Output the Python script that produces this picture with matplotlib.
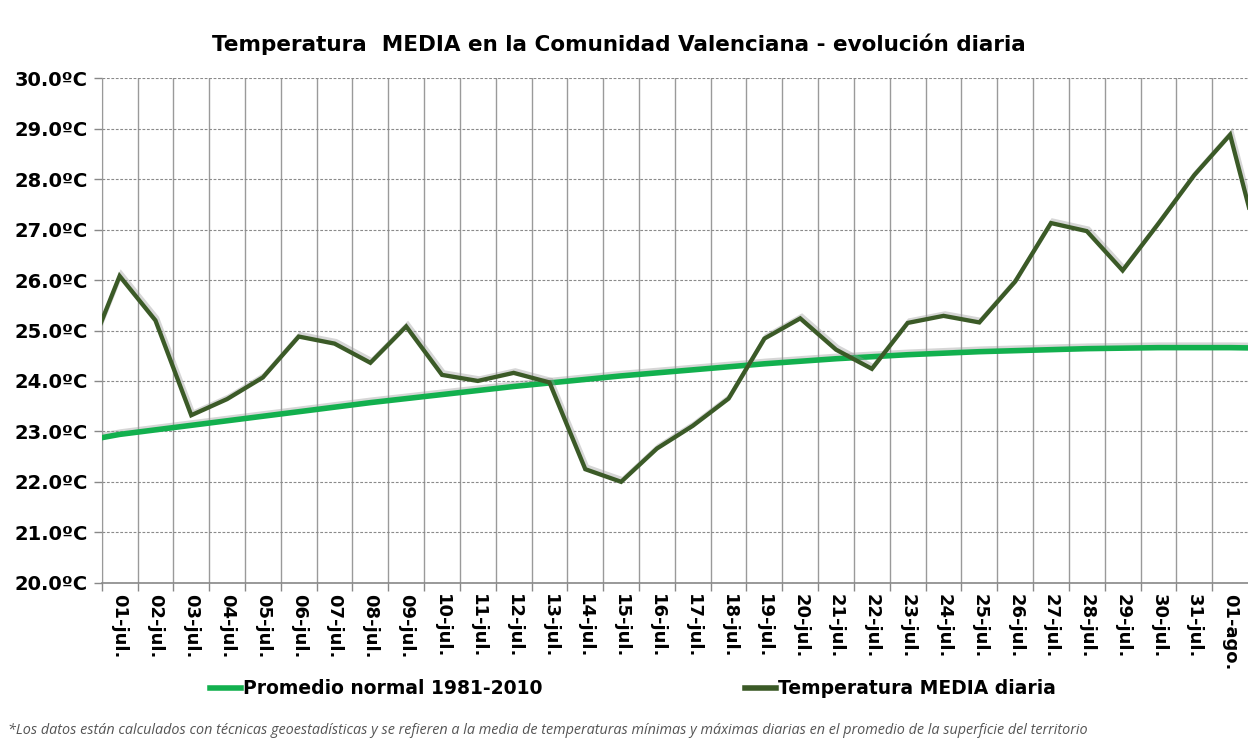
import matplotlib
matplotlib.use("Agg")
import matplotlib.pyplot as plt
import matplotlib.patheffects as pe
import numpy as np

# ---- data ----
days = ["01-jul.", "02-jul.", "03-jul.", "04-jul.", "05-jul.", "06-jul.", "07-jul.", "08-jul.",
        "09-jul.", "10-jul.", "11-jul.", "12-jul.", "13-jul.", "14-jul.", "15-jul.", "16-jul.",
        "17-jul.", "18-jul.", "19-jul.", "20-jul.", "21-jul.", "22-jul.", "23-jul.", "24-jul.",
        "25-jul.", "26-jul.", "27-jul.", "28-jul.", "29-jul.", "30-jul.", "31-jul.", "01-ago."]
# values for the partially visible neighbouring days (30-jun and 02-ago) at the clipped edges
media_prev, media_next = 24.3, 26.15
normal_prev, normal_next = 22.81, 24.65
media = [26.08, 25.2, 23.32, 23.64, 24.07, 24.88, 24.74, 24.36, 25.08, 24.12, 24.0, 24.16,
         23.97, 22.25, 22.0, 22.66, 23.11, 23.65, 24.84, 25.24, 24.62, 24.24, 25.15, 25.29,
         25.16, 25.97, 27.13, 26.97, 26.19, 27.12, 28.08, 28.88]
normal = [22.94, 23.03, 23.12, 23.21, 23.30, 23.39, 23.48, 23.57, 23.65, 23.73, 23.81, 23.89,
          23.96, 24.03, 24.10, 24.16, 24.22, 24.28, 24.34, 24.39, 24.44, 24.48, 24.52, 24.55,
          24.58, 24.60, 24.62, 24.64, 24.65, 24.66, 24.66, 24.66]
yticks = [20, 21, 22, 23, 24, 25, 26, 27, 28, 29, 30]

title = "Temperatura  MEDIA en la Comunidad Valenciana - evolución diaria"
leg_normal = "Promedio normal 1981-2010"
leg_media = "Temperatura MEDIA diaria"
footnote = ("*Los datos están calculados con técnicas geoestadísticas y se refieren a la media de "
            "temperaturas mínimas y máximas diarias en el promedio de la superficie del territorio")

c_media = "#3b5a27"
c_normal = "#12b04e"

W, H = 1248, 749
fig = plt.figure(figsize=(W / 100, H / 100), dpi=100)
fig.patch.set_facecolor("white")
ax = fig.add_axes([101.7 / W, 1 - 582.7 / H, (W - 101.7) / W, (582.7 - 78.3) / H])
ax.set_facecolor("none")

n = len(days)
x = np.arange(-1, n + 1)
y_media = [media_prev] + media + [media_next]
y_normal = [normal_prev] + normal + [normal_next]

shadow = [pe.SimpleLineShadow(offset=(1.2, 1.8), shadow_color="#999999", alpha=0.4), pe.Normal()]
ax.plot(x, y_normal, color=c_normal, lw=4.0, solid_capstyle="butt", path_effects=shadow, zorder=3)
ax.plot(x, y_media, color=c_media, lw=3.1, solid_joinstyle="miter", path_effects=shadow, zorder=4)

ax.set_xlim(-0.5, n - 0.5)
ax.set_ylim(20, 30)

ax.set_yticks(yticks)
ax.set_yticklabels([f"{v:.1f}ºC" for v in yticks], fontsize=14, fontweight="bold", family="DejaVu Sans")
ax.yaxis.grid(True, color="#8a8a8a", lw=0.8, ls=(0, (2.5, 1.5)))

ax.set_xticks(np.arange(n))
ax.set_xticklabels(days, rotation=270, fontsize=13, fontweight="bold", family="DejaVu Sans")
ax.set_xticks(np.arange(n) - 0.5, minor=True)
ax.xaxis.grid(True, which="minor", color="#9a9a9a", lw=1.0)
ax.tick_params(axis="x", which="major", length=0, pad=8)
ax.tick_params(axis="x", which="minor", length=6, width=1, color="#888888")
ax.tick_params(axis="y", length=6, width=1, color="#888888", pad=4)
ax.set_axisbelow(True)

for s in ["top", "right"]:
    ax.spines[s].set_visible(False)
ax.spines["left"].set_color("#999999")
ax.spines["bottom"].set_color("#888888")
ax.spines["bottom"].set_linewidth(1.2)

fig.text(619 / W, 1 - 44 / H, title, ha="center", va="center", fontsize=15.5, fontweight="bold",
         family="DejaVu Sans")

# legend drawn as figure lines + text
ly = 1 - 688 / H
fig.add_artist(plt.Line2D([210 / W, 241 / W], [ly, ly], color=c_normal, lw=4, transform=fig.transFigure))
fig.text(243 / W, ly, leg_normal, ha="left", va="center", fontsize=13.5, fontweight="bold", family="DejaVu Sans")
fig.add_artist(plt.Line2D([745 / W, 776 / W], [ly, ly], color=c_media, lw=4, transform=fig.transFigure))
fig.text(778 / W, ly, leg_media, ha="left", va="center", fontsize=13.5, fontweight="bold", family="DejaVu Sans")

fig.text(8 / W, 1 - 731 / H, footnote, ha="left", va="center", fontsize=10.4, style="italic",
         color="#555555", family="Open Sans")

fig.savefig("out.png", dpi=100, facecolor="white")
